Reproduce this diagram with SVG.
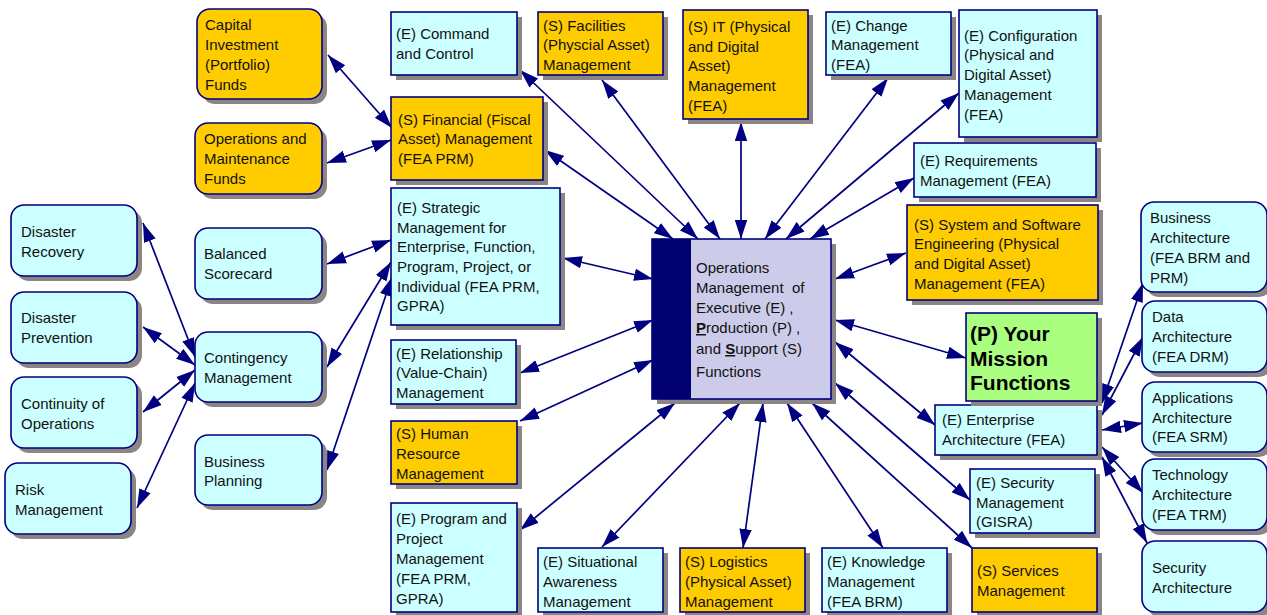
<svg xmlns="http://www.w3.org/2000/svg" width="1267" height="615" viewBox="0 0 1267 615">
<style>
.sh{fill:#8c8585}
.c{fill:#ccffff;stroke:#000080;stroke-width:1.6}
.g{fill:#ffcc00;stroke:#000080;stroke-width:1.6}
.m{fill:#aaff80;stroke:#000080;stroke-width:1.6}
.t{font-family:"Liberation Sans",Arial,sans-serif;font-size:15px;fill:#111}
.b{font-family:"Liberation Sans",Arial,sans-serif;font-size:21px;font-weight:bold;fill:#000}
#conn line{stroke:#000080;stroke-width:1.7;marker-start:url(#ah);marker-end:url(#ah)}
</style>
<defs>
<marker id="ah" markerUnits="userSpaceOnUse" markerWidth="20" markerHeight="14" refX="19" refY="7" orient="auto-start-reverse"><path d="M0,0.8 L19,7 L0,13.2z" fill="#000080"/></marker>
</defs>
<rect width="1267" height="615" fill="#fff"/>

<g id="conn">
<line x1="545" y1="150" x2="673" y2="239"/>
<line x1="520" y1="70" x2="698" y2="239"/>
<line x1="602" y1="80" x2="720" y2="239"/>
<line x1="741" y1="122" x2="741" y2="239"/>
<line x1="888" y1="78" x2="765" y2="239"/>
<line x1="959" y1="93" x2="786" y2="239"/>
<line x1="914" y1="178" x2="810" y2="239"/>
<line x1="906" y1="253" x2="835" y2="279"/>
<line x1="966" y1="358" x2="835" y2="320"/>
<line x1="935" y1="425" x2="835" y2="342"/>
<line x1="970" y1="500" x2="835" y2="383"/>
<line x1="972" y1="548" x2="812" y2="403"/>
<line x1="883" y1="548" x2="787" y2="403"/>
<line x1="743" y1="548" x2="763" y2="403"/>
<line x1="602" y1="547" x2="740" y2="403"/>
<line x1="520" y1="530" x2="675" y2="403"/>
<line x1="520" y1="421" x2="653" y2="360"/>
<line x1="520" y1="373" x2="653" y2="320"/>
<line x1="563" y1="258" x2="653" y2="279"/>
<line x1="328" y1="55" x2="392" y2="128"/>
<line x1="327" y1="163" x2="391" y2="140"/>
<line x1="327" y1="264" x2="391" y2="240"/>
<line x1="327" y1="367" x2="391" y2="262"/>
<line x1="327" y1="470" x2="392" y2="277"/>
<line x1="143" y1="223" x2="195" y2="357"/>
<line x1="143" y1="327" x2="195" y2="365"/>
<line x1="143" y1="412" x2="195" y2="370"/>
<line x1="137" y1="508" x2="195" y2="383"/>
<line x1="1102" y1="403" x2="1143" y2="283"/>
<line x1="1102" y1="415" x2="1143" y2="337"/>
<line x1="1102" y1="430" x2="1143" y2="423"/>
<line x1="1102" y1="447" x2="1143" y2="493"/>
<line x1="1102" y1="457" x2="1147" y2="543"/>
</g>

<g id="center">
<rect class="sh" x="657" y="244" width="179" height="160"/>
<rect x="652" y="239" width="179" height="160" fill="#ccccea" stroke="#000080" stroke-width="1.6"/>
<rect x="652" y="239" width="39" height="160" fill="#000070"/>
<text class="t" x="696"><tspan x="696" y="273">Operations</tspan><tspan x="696" y="293">Management&#160; of</tspan><tspan x="696" y="313">Executive (E) ,</tspan><tspan x="696" y="333"><tspan font-weight="bold" text-decoration="underline">P</tspan>roduction (P) ,</tspan><tspan x="696" y="354">and <tspan font-weight="bold" text-decoration="underline">S</tspan>upport (S)</tspan><tspan x="696" y="377">Functions</tspan></text>
</g>

<g id="capital">
<rect class="sh" x="202" y="14" width="125" height="90" rx="13"/>
<rect class="g" x="197" y="9" width="125" height="90" rx="13"/>
<text class="t"><tspan x="205" y="30">Capital</tspan><tspan x="205" y="50">Investment</tspan><tspan x="205" y="70">(Portfolio)</tspan><tspan x="205" y="90">Funds</tspan></text>
</g>
<g id="om">
<rect class="sh" x="200" y="128" width="127" height="71" rx="13"/>
<rect class="g" x="195" y="123" width="127" height="71" rx="13"/>
<text class="t"><tspan x="204" y="144">Operations and</tspan><tspan x="204" y="164">Maintenance</tspan><tspan x="204" y="184">Funds</tspan></text>
</g>
<g id="bsc">
<rect class="sh" x="200" y="233" width="127" height="71" rx="13"/>
<rect class="c" x="195" y="228" width="127" height="71" rx="13"/>
<text class="t"><tspan x="204" y="259">Balanced</tspan><tspan x="204" y="279">Scorecard</tspan></text>
</g>
<g id="contingency">
<rect class="sh" x="200" y="337" width="127" height="70" rx="13"/>
<rect class="c" x="195" y="332" width="127" height="70" rx="13"/>
<text class="t"><tspan x="204" y="363">Contingency</tspan><tspan x="204" y="383">Management</tspan></text>
</g>
<g id="bplanning">
<rect class="sh" x="200" y="440" width="127" height="70" rx="13"/>
<rect class="c" x="195" y="435" width="127" height="70" rx="13"/>
<text class="t"><tspan x="204" y="467">Business</tspan><tspan x="204" y="486">Planning</tspan></text>
</g>
<g id="drecovery">
<rect class="sh" x="16" y="210" width="126" height="71" rx="13"/>
<rect class="c" x="11" y="205" width="126" height="71" rx="13"/>
<text class="t"><tspan x="21" y="237">Disaster</tspan><tspan x="21" y="257">Recovery</tspan></text>
</g>
<g id="dprevention">
<rect class="sh" x="16" y="297" width="126" height="71" rx="13"/>
<rect class="c" x="11" y="292" width="126" height="71" rx="13"/>
<text class="t"><tspan x="21" y="323">Disaster</tspan><tspan x="21" y="343">Prevention</tspan></text>
</g>
<g id="continuity">
<rect class="sh" x="16" y="382" width="126" height="71" rx="13"/>
<rect class="c" x="11" y="377" width="126" height="71" rx="13"/>
<text class="t"><tspan x="21" y="409">Continuity of</tspan><tspan x="21" y="429">Operations</tspan></text>
</g>
<g id="risk">
<rect class="sh" x="10" y="468" width="126" height="71" rx="13"/>
<rect class="c" x="5" y="463" width="126" height="71" rx="13"/>
<text class="t"><tspan x="15" y="495">Risk</tspan><tspan x="15" y="515">Management</tspan></text>
</g>

<g id="command">
<rect class="sh" x="396" y="17" width="126" height="63"/>
<rect class="c" x="391" y="12" width="126" height="63"/>
<text class="t"><tspan x="396" y="39">(E) Command</tspan><tspan x="396" y="59">and Control</tspan></text>
</g>
<g id="facilities">
<rect class="sh" x="543" y="17" width="125" height="63"/>
<rect class="g" x="538" y="12" width="125" height="63"/>
<text class="t"><tspan x="543" y="31">(S) Facilities</tspan><tspan x="543" y="50">(Physcial Asset)</tspan><tspan x="543" y="70">Management</tspan></text>
</g>
<g id="it">
<rect class="sh" x="688" y="15" width="125" height="109"/>
<rect class="g" x="683" y="10" width="125" height="109"/>
<text class="t"><tspan x="688" y="32">(S) IT (Physical</tspan><tspan x="688" y="52">and Digital</tspan><tspan x="688" y="71">Asset)</tspan><tspan x="688" y="91">Management</tspan><tspan x="688" y="111">(FEA)</tspan></text>
</g>
<g id="change">
<rect class="sh" x="831" y="17" width="125" height="63"/>
<rect class="c" x="826" y="12" width="125" height="63"/>
<text class="t"><tspan x="831" y="31">(E) Change</tspan><tspan x="831" y="50">Management</tspan><tspan x="831" y="70">(FEA)</tspan></text>
</g>
<g id="config">
<rect class="sh" x="964" y="15" width="138" height="127"/>
<rect class="c" x="959" y="10" width="138" height="127"/>
<text class="t"><tspan x="964" y="41">(E) Configuration</tspan><tspan x="964" y="60">(Physical and</tspan><tspan x="964" y="80">Digital Asset)</tspan><tspan x="964" y="100">Management</tspan><tspan x="964" y="120">(FEA)</tspan></text>
</g>
<g id="requirements">
<rect class="sh" x="919" y="148" width="182" height="54"/>
<rect class="c" x="914" y="143" width="182" height="54"/>
<text class="t"><tspan x="920" y="166">(E) Requirements</tspan><tspan x="920" y="186">Management (FEA)</tspan></text>
</g>
<g id="financial">
<rect class="sh" x="396" y="102" width="152" height="83"/>
<rect class="g" x="391" y="97" width="152" height="83"/>
<text class="t"><tspan x="398" y="125">(S) Financial (Fiscal</tspan><tspan x="398" y="144">Asset) Management</tspan><tspan x="398" y="164">(FEA PRM)</tspan></text>
</g>
<g id="strategic">
<rect class="sh" x="396" y="193" width="169" height="137"/>
<rect class="c" x="391" y="188" width="169" height="137"/>
<text class="t"><tspan x="397" y="213">(E) Strategic</tspan><tspan x="397" y="233">Management for</tspan><tspan x="397" y="252">Enterprise, Function,</tspan><tspan x="397" y="272">Program, Project, or</tspan><tspan x="397" y="292">Individual (FEA PRM,</tspan><tspan x="397" y="311">GPRA)</tspan></text>
</g>
<g id="relationship">
<rect class="sh" x="396" y="345" width="125" height="64"/>
<rect class="c" x="391" y="340" width="125" height="64"/>
<text class="t"><tspan x="396" y="359">(E) Relationship</tspan><tspan x="396" y="378">(Value-Chain)</tspan><tspan x="396" y="398">Management</tspan></text>
</g>
<g id="hr">
<rect class="sh" x="396" y="426" width="126" height="63"/>
<rect class="g" x="391" y="421" width="126" height="63"/>
<text class="t"><tspan x="396" y="439">(S) Human</tspan><tspan x="396" y="459">Resource</tspan><tspan x="396" y="479">Management</tspan></text>
</g>
<g id="program">
<rect class="sh" x="396" y="508" width="126" height="109"/>
<rect class="c" x="391" y="503" width="126" height="109"/>
<text class="t"><tspan x="396" y="524">(E) Program and</tspan><tspan x="396" y="544">Project</tspan><tspan x="396" y="564">Management</tspan><tspan x="396" y="584">(FEA PRM,</tspan><tspan x="396" y="604">GPRA)</tspan></text>
</g>
<g id="situational">
<rect class="sh" x="543" y="553" width="125" height="64"/>
<rect class="c" x="538" y="548" width="125" height="64"/>
<text class="t"><tspan x="543" y="567">(E) Situational</tspan><tspan x="543" y="587">Awareness</tspan><tspan x="543" y="607">Management</tspan></text>
</g>
<g id="logistics">
<rect class="sh" x="685" y="553" width="125" height="64"/>
<rect class="g" x="680" y="548" width="125" height="64"/>
<text class="t"><tspan x="685" y="567">(S) Logistics</tspan><tspan x="685" y="587">(Physical Asset)</tspan><tspan x="685" y="607">Management</tspan></text>
</g>
<g id="knowledge">
<rect class="sh" x="827" y="553" width="125" height="64"/>
<rect class="c" x="822" y="548" width="125" height="64"/>
<text class="t"><tspan x="827" y="567">(E) Knowledge</tspan><tspan x="827" y="587">Management</tspan><tspan x="827" y="607">(FEA BRM)</tspan></text>
</g>
<g id="services">
<rect class="sh" x="977" y="553" width="125" height="64"/>
<rect class="g" x="972" y="548" width="125" height="64"/>
<text class="t"><tspan x="977" y="576">(S) Services</tspan><tspan x="977" y="596">Management</tspan></text>
</g>
<g id="gisra">
<rect class="sh" x="975" y="474" width="125" height="64"/>
<rect class="c" x="970" y="469" width="125" height="64"/>
<text class="t"><tspan x="976" y="488">(E) Security</tspan><tspan x="976" y="508">Management</tspan><tspan x="976" y="527">(GISRA)</tspan></text>
</g>
<g id="ea">
<rect class="sh" x="940" y="410" width="162" height="50"/>
<rect class="c" x="935" y="405" width="162" height="50"/>
<text class="t"><tspan x="942" y="425">(E) Enterprise</tspan><tspan x="942" y="445">Architecture (FEA)</tspan></text>
</g>
<g id="mission">
<rect class="sh" x="971" y="318" width="131" height="88"/>
<rect class="m" x="966" y="313" width="131" height="88"/>
<text class="b"><tspan x="970" y="341">(P) Your</tspan><tspan x="970" y="366">Mission</tspan><tspan x="970" y="390">Functions</tspan></text>
</g>
<g id="system">
<rect class="sh" x="912" y="210" width="191" height="95"/>
<rect class="g" x="907" y="205" width="191" height="95"/>
<text class="t"><tspan x="914" y="230">(S) System and Software</tspan><tspan x="914" y="249">Engineering (Physical</tspan><tspan x="914" y="269">and Digital Asset)</tspan><tspan x="914" y="289">Management (FEA)</tspan></text>
</g>

<g id="busarch">
<rect class="sh" x="1146" y="207" width="126" height="90" rx="13"/>
<rect class="c" x="1141" y="202" width="126" height="90" rx="13"/>
<text class="t"><tspan x="1150" y="223">Business</tspan><tspan x="1150" y="243">Architecture</tspan><tspan x="1150" y="263">(FEA BRM and</tspan><tspan x="1150" y="283">PRM)</tspan></text>
</g>
<g id="dataarch">
<rect class="sh" x="1147" y="306" width="125" height="71" rx="13"/>
<rect class="c" x="1142" y="301" width="125" height="71" rx="13"/>
<text class="t"><tspan x="1152" y="322">Data</tspan><tspan x="1152" y="342">Architecture</tspan><tspan x="1152" y="362">(FEA DRM)</tspan></text>
</g>
<g id="apparch">
<rect class="sh" x="1147" y="387" width="125" height="70" rx="13"/>
<rect class="c" x="1142" y="382" width="125" height="70" rx="13"/>
<text class="t"><tspan x="1152" y="403">Applications</tspan><tspan x="1152" y="423">Architecture</tspan><tspan x="1152" y="442">(FEA SRM)</tspan></text>
</g>
<g id="techarch">
<rect class="sh" x="1147" y="464" width="125" height="71" rx="13"/>
<rect class="c" x="1142" y="459" width="125" height="71" rx="13"/>
<text class="t"><tspan x="1152" y="480">Technology</tspan><tspan x="1152" y="500">Architecture</tspan><tspan x="1152" y="520">(FEA TRM)</tspan></text>
</g>
<g id="secarch">
<rect class="sh" x="1147" y="546" width="125" height="71" rx="13"/>
<rect class="c" x="1142" y="541" width="125" height="71" rx="13"/>
<text class="t"><tspan x="1152" y="573">Security</tspan><tspan x="1152" y="593">Architecture</tspan></text>
</g>
</svg>
